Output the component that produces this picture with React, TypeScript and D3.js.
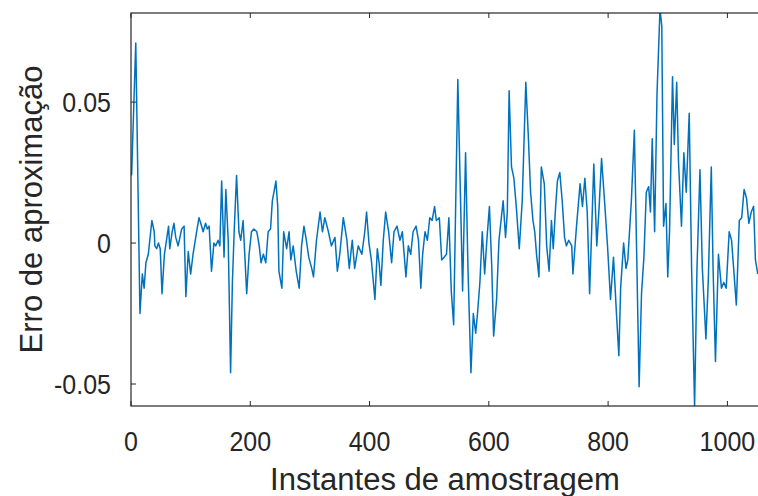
import React from 'react';
import * as d3 from 'd3';

// sample index / approximation error
const sampleIdx = [
  1, 8, 15, 19, 22, 25, 29, 35, 39, 40, 43, 46, 49, 52, 56, 63, 65, 69, 72, 75,
  79, 82, 85, 89, 92, 96, 100, 104, 110, 114, 117, 121, 125, 128, 131, 135, 139, 142, 146, 149,
  152, 156, 159, 163, 167, 170, 173, 177, 181, 184, 188, 194, 198, 202, 206, 211, 215, 218, 222, 226,
  230, 234, 237, 243, 246, 248, 253, 256, 261, 265, 268, 272, 277, 282, 286, 290, 294, 298, 303, 306,
  311, 317, 321, 325, 331, 336, 342, 346, 350, 356, 362, 366, 371, 375, 381, 387, 392, 395, 399, 403,
  409, 413, 416, 419, 423, 427, 432, 437, 441, 446, 451, 455, 461, 465, 469, 473, 478, 482, 486, 489,
  493, 497, 501, 505, 509, 512, 517, 521, 525, 529, 533, 537, 541, 548, 556, 561, 565, 570, 574, 578,
  581, 585, 589, 593, 597, 601, 605, 608, 613, 617, 621, 624, 628, 631, 634, 638, 642, 646, 651, 656,
  662, 666, 670, 674, 677, 680, 684, 688, 693, 697, 701, 705, 708, 712, 715, 719, 723, 727, 730, 734,
  739, 741, 747, 753, 757, 761, 765, 769, 776, 781, 785, 789, 794, 799, 804, 809, 814, 818, 821, 826,
  830, 833, 839, 844, 848, 852, 856, 860, 864, 868, 871, 874, 878, 882, 887, 890, 893, 897, 900, 903,
  908, 911, 915, 918, 923, 927, 931, 936, 940, 945, 949, 954, 958, 964, 968, 973, 976, 980, 985, 990,
  994, 998, 1003, 1007, 1015, 1020, 1024, 1028, 1032, 1036, 1040, 1044, 1047, 1051,
];

const errorVals = [
  0.024, 0.071, -0.025, -0.011, -0.016, -0.007, -0.004, 0.008, 0.004, -0.001, -0.002, 0, -0.002, -0.018, -0.004, 0.006, -0.002, 0.004, 0.007, 0.002,
  -0.001, 0.002, 0.005, 0.006, -0.019, -0.003, -0.011, -0.004, 0.004, 0.009, 0.007, 0.004, 0.007, 0.005, 0.006, -0.01, 0, -0.001, 0.001, -0.001,
  0.022, -0.005, 0.019, 0.001, -0.046, -0.014, 0.004, 0.024, 0.004, 0.001, 0.008, -0.018, -0.004, 0.004, 0.005, 0.004, -0.001, -0.007, -0.004, -0.007,
  0.004, 0.005, 0.015, 0.022, 0.013, -0.01, -0.016, 0.004, -0.002, 0.004, -0.006, -0.001, -0.01, -0.016, -0.001, 0.006, 0.001, -0.005, -0.009, -0.012,
  0.001, 0.011, 0.004, 0.009, 0.004, -0.001, 0.002, -0.01, -0.004, 0.009, 0.001, -0.009, 0.001, -0.009, -0.001, -0.004, 0.004, 0.011, 0, -0.006,
  -0.02, -0.002, -0.007, -0.015, 0.001, 0.011, 0.004, -0.007, 0.004, 0.006, 0.001, 0.004, -0.012, -0.001, -0.004, 0.004, 0.006, 0.001, -0.016, -0.004,
  0.004, 0.001, 0.009, 0.008, 0.013, 0.008, 0.009, -0.006, -0.005, -0.004, 0.009, -0.017, -0.029, 0.058, -0.017, 0.032, -0.009, -0.046, -0.025, -0.032,
  -0.025, -0.014, 0.004, -0.011, 0.002, 0.013, -0.009, -0.033, -0.02, 0.001, 0.009, 0.015, 0.002, 0.011, 0.054, 0.027, 0.023, 0.013, -0.002, 0.015,
  0.057, 0.039, 0.018, 0.008, 0.004, -0.004, -0.012, 0.027, 0.021, -0.001, -0.01, 0.008, -0.002, 0.013, 0.022, 0.025, 0.015, 0.002, -0.001, 0.001,
  -0.001, -0.011, 0.006, 0.021, 0.013, 0.023, 0.011, -0.018, 0.028, -0.001, 0.013, 0.03, 0.015, -0.001, -0.02, -0.005, -0.025, -0.04, -0.016, 0,
  -0.009, -0.006, 0.015, 0.04, -0.005, -0.051, -0.018, -0.005, 0.018, 0.02, 0.011, 0.037, 0.004, 0.053, 0.083, 0.077, 0.006, 0.014, -0.012, 0.004,
  0.059, 0.035, 0.057, 0.029, 0.006, 0.032, 0.018, 0.046, -0.009, -0.058, -0.009, 0.026, -0.009, -0.034, -0.013, 0.027, -0.009, -0.042, -0.004, -0.016,
  -0.014, -0.016, 0.004, 0.001, -0.022, 0.008, 0.009, 0.019, 0.016, 0.007, 0.011, 0.013, -0.006, -0.011,
];

const xTicks = [0, 200, 400, 600, 800, 1000];
const yTicks = [-0.05, 0, 0.05];
const yTickLabels = ['-0.05', '0', '0.05'];

const W = 758;
const H = 496;
const margin = { left: 131, top: 13, right: 759, bottom: 406 };
const axisColor = '#262626';
const font = "'Liberation Sans', Arial, Helvetica, sans-serif";

export default function App() {
  const x = d3.scaleLinear().domain([0, 1053]).range([margin.left, margin.right]);
  const y = d3.scaleLinear().domain([-0.0578, 0.0816]).range([margin.bottom, margin.top]);

  const points: [number, number][] = sampleIdx.map((s, i) => [s, errorVals[i]]);
  const line = d3
    .line<[number, number]>()
    .x((d) => x(d[0]))
    .y((d) => y(d[1]));

  const tickLen = 5;

  return (
    <svg
      width={W}
      height={H}
      style={{ position: 'absolute', left: 0, top: 0, background: '#fff' }}
    >
      <defs>
        <clipPath id="plot-area">
          <rect
            x={margin.left}
            y={margin.top}
            width={margin.right - margin.left}
            height={margin.bottom - margin.top}
          />
        </clipPath>
      </defs>

      <path
        d={line(points) ?? ''}
        fill="none"
        stroke="#0072BD"
        strokeWidth={1.5}
        strokeLinejoin="round"
        clipPath="url(#plot-area)"
      />

      {/* axes box */}
      <rect
        x={margin.left}
        y={margin.top}
        width={margin.right - margin.left}
        height={margin.bottom - margin.top}
        fill="none"
        stroke={axisColor}
        strokeWidth={1.2}
      />

      {/* x ticks */}
      {xTicks.map((t) => (
        <g key={`x${t}`}>
          <line x1={x(t)} x2={x(t)} y1={margin.bottom} y2={margin.bottom - tickLen} stroke={axisColor} />
          <line x1={x(t)} x2={x(t)} y1={margin.top} y2={margin.top + tickLen} stroke={axisColor} />
          <text
            transform={`translate(${x(t)}, 451) scale(1, 1.12)`}
            textAnchor="middle"
            fontFamily={font}
            fontSize={25}
            fill={axisColor}
          >
            {t}
          </text>
        </g>
      ))}

      {/* y ticks */}
      {yTicks.map((t, i) => (
        <g key={`y${t}`}>
          <line x1={margin.left} x2={margin.left + tickLen} y1={y(t)} y2={y(t)} stroke={axisColor} />
          <text
            transform={`translate(111, ${y(t) + 10}) scale(1, 1.12)`}
            textAnchor="end"
            fontFamily={font}
            fontSize={25}
            fill={axisColor}
          >
            {yTickLabels[i]}
          </text>
        </g>
      ))}

      <text
        x={(margin.left + margin.right) / 2}
        y={490}
        textAnchor="middle"
        fontFamily={font}
        fontSize={31}
        fill={axisColor}
      >
        Instantes de amostragem
      </text>

      <text
        transform={`translate(42, ${(margin.top + margin.bottom) / 2}) rotate(-90)`}
        textAnchor="middle"
        fontFamily={font}
        fontSize={31}
        fill={axisColor}
      >
        Erro de aproximação
      </text>
    </svg>
  );
}
